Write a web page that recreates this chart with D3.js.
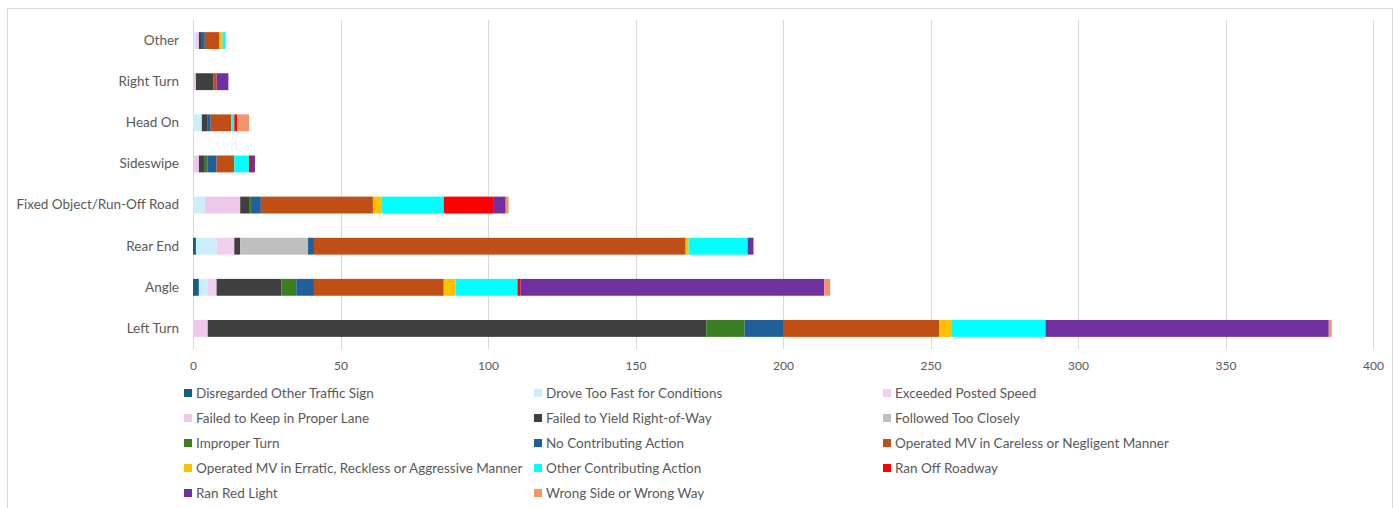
<!DOCTYPE html>
<html>
<head>
<meta charset="utf-8">
<script src="https://cdn.jsdelivr.net/npm/d3@7"></script>
<style>
  body { margin: 0; background: #fff; }
  svg text { font-family: Lato, "Noto Sans", sans-serif; fill: #595959; }
</style>
</head>
<body>
<svg id="chart" width="1398" height="508"></svg>
<script>
// categories, bottom to top as in the chart
var categories = ["Left Turn", "Angle", "Rear End", "Fixed Object/Run-Off Road", "Sideswipe", "Head On", "Right Turn", "Other"];

var seriesNames = [
  "Disregarded Other Traffic Sign", "Drove Too Fast for Conditions", "Exceeded Posted Speed",
  "Failed to Keep in Proper Lane", "Failed to Yield Right-of-Way", "Followed Too Closely",
  "Improper Turn", "No Contributing Action", "Operated MV in Careless or Negligent Manner",
  "Operated MV in Erratic, Reckless or Aggressive Manner", "Other Contributing Action", "Ran Off Roadway",
  "Ran Red Light", "Wrong Side or Wrong Way"
];

var seriesColors = ["#156082", "#CAEEFB", "#F2CEEF", "#EFC6EC", "#404040", "#BFBFBF", "#3B7D23",
  "#215F9A", "#C04F15", "#FFC000", "#00FFFF", "#FF0000", "#7030A0", "#F1956A"];

// one array per series, values in category order above
var disregarded   = [0, 2, 1, 0, 0, 0, 0, 0];
var droveTooFast  = [0, 3, 7, 4, 0, 3, 0, 1];
var exceeded      = [0, 3, 6, 0, 0, 0, 0, 1];
var properLane    = [5, 0, 0, 12, 2, 0, 1, 0];
var failedYield   = [169, 22, 2, 3, 2, 2, 6, 1];
var followed      = [0, 0, 23, 0, 0, 0, 0, 0];
var improperTurn  = [13, 5, 0, 1, 1, 0, 0, 0];
var noAction      = [13, 6, 2, 3, 3, 1, 0, 1];
var careless      = [53, 44, 126, 38, 6, 7, 1, 5];
var erratic       = [4, 4, 1, 3, 0, 0, 0, 1];
var otherAction   = [32, 21, 20, 21, 5, 1, 0, 1];
var ranOff        = [0, 1, 0, 17, 1, 1, 0, 0];
var ranRedLight   = [96, 103, 2, 4, 1, 0, 4, 0];
var wrongWay      = [1, 2, 0, 1, 0, 4, 0, 0];

var xTicks = [0, 50, 100, 150, 200, 250, 300, 350, 400];

var seriesValues = [disregarded, droveTooFast, exceeded, properLane, failedYield, followed,
  improperTurn, noAction, careless, erratic, otherAction, ranOff, ranRedLight, wrongWay];

var rows = categories.map(function(c, i){
  var r = {cat: c};
  seriesNames.forEach(function(s, j){ r[s] = seriesValues[j][i]; });
  return r;
});

var svg = d3.select("#chart");
var margin = {left: 193, right: 25, top: 20, bottom: 159};
var width = 1398 - margin.left - margin.right;
var height = 349 - margin.top;

// chart area border
svg.append("rect")
  .attr("x", 7.5).attr("y", 8.5).attr("width", 1385).attr("height", 520)
  .attr("fill", "none").attr("stroke", "#D9D9D9");

var g = svg.append("g").attr("transform", "translate(" + margin.left + "," + margin.top + ")");

var x = d3.scaleLinear().domain([0, 400]).range([0, 1180]);
var y = d3.scaleBand().domain(categories.slice().reverse()).range([0, height]).paddingInner(0.59).paddingOuter(0.295);

// gridlines
g.selectAll(".grid").data(xTicks).enter().append("line")
  .attr("class", "grid")
  .attr("x1", function(d){ return Math.round(x(d)) + 0.5; })
  .attr("x2", function(d){ return Math.round(x(d)) + 0.5; })
  .attr("y1", 0).attr("y2", height)
  .attr("stroke", "#D9D9D9").attr("stroke-width", 1);

var stack = d3.stack().keys(seriesNames)(rows);

g.selectAll(".series").data(stack).enter().append("g")
  .attr("class", "series")
  .attr("fill", function(d, i){ return seriesColors[i]; })
  .selectAll("rect").data(function(d){ return d; }).enter().append("rect")
  .attr("x", function(d){ return x(d[0]); })
  .attr("y", function(d){ return y(d.data.cat); })
  .attr("width", function(d){ return x(d[1]) - x(d[0]); })
  .attr("height", y.bandwidth());

// x axis labels
var axisX = g.append("g").attr("transform", "translate(0," + height + ")")
  .call(d3.axisBottom(x).tickValues(xTicks).tickSize(0).tickPadding(12));
axisX.select(".domain").remove();
axisX.selectAll("text").style("font-size", "12px").attr("fill", "#595959");

// y axis labels
var axisY = g.append("g")
  .call(d3.axisLeft(y).tickSize(0).tickPadding(14));
axisY.select(".domain").remove();
axisY.selectAll("text").style("font-size", "13.5px").attr("fill", "#595959");

// legend
var legend = svg.append("g").attr("class", "legend");
var colX = [184, 534, 883];
seriesNames.forEach(function(s, i){
  var lx = colX[i % 3], ly = 393 + Math.floor(i / 3) * 25;
  legend.append("rect").attr("x", lx).attr("y", ly - 4).attr("width", 8).attr("height", 8)
    .attr("fill", seriesColors[i]);
  legend.append("text").attr("x", lx + 12).attr("y", ly).attr("dy", "0.35em")
    .style("font-size", "13.5px").text(s);
});
</script>
</body>
</html>
